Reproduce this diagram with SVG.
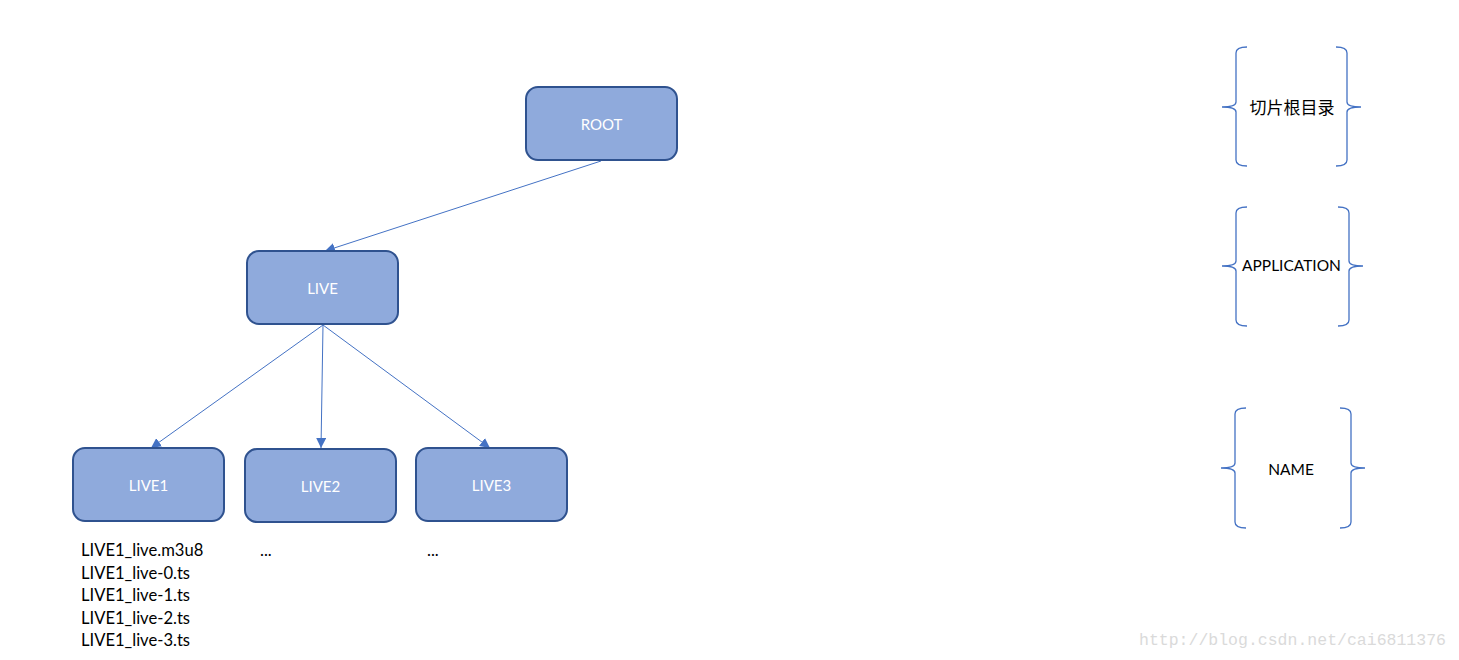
<svg xmlns="http://www.w3.org/2000/svg" width="1459" height="660" viewBox="0 0 1459 660">
<style>
.box{fill:#8FAADC;stroke:#2F528F;stroke-width:2}
.bt{fill:#ffffff;font-family:Lato,"Open Sans",sans-serif;font-size:15px;text-anchor:middle;dominant-baseline:central}
.conn{stroke:#4472C4;stroke-width:1;fill:none}
.brace{stroke:#4472C4;stroke-width:1.3;fill:none}
.lbl{fill:#000;font-family:Lato,"Noto Sans CJK SC",sans-serif;font-size:16.6px}
.bl{fill:#000;font-family:Lato,"Noto Sans CJK SC",sans-serif;font-size:15.5px;text-anchor:middle}
.wm{fill:#dadada;font-family:"Liberation Mono",monospace;font-size:16.5px}
</style>
<defs>
<marker id="ah" viewBox="0 0 10 10" refX="10" refY="5" markerWidth="10" markerHeight="10" markerUnits="userSpaceOnUse" orient="auto">
<path d="M0,0 L10,5 L0,10 Z" fill="#4472C4"/>
</marker>
</defs>
<rect width="1459" height="660" fill="#ffffff"/>
<g id="connectors">
<line class="conn" x1="601" y1="161" x2="325" y2="251" marker-end="url(#ah)"/>
<line class="conn" x1="323" y1="325" x2="151" y2="448" marker-end="url(#ah)"/>
<line class="conn" x1="323" y1="325" x2="321" y2="448" marker-end="url(#ah)"/>
<line class="conn" x1="323" y1="325" x2="490" y2="448" marker-end="url(#ah)"/>
</g>
<g id="root"><rect class="box" x="526" y="87" width="151" height="73" rx="12"/><text class="bt" x="601.5" y="124">ROOT</text></g>
<g id="live"><rect class="box" x="247" y="251" width="151" height="73" rx="12"/><text class="bt" x="322.5" y="288">LIVE</text></g>
<g id="live1"><rect class="box" x="73" y="448" width="151" height="73" rx="12"/><text class="bt" x="148.5" y="485">LIVE1</text></g>
<g id="live2"><rect class="box" x="245" y="449" width="151" height="73" rx="12"/><text class="bt" x="320.5" y="486">LIVE2</text></g>
<g id="live3"><rect class="box" x="416" y="448" width="151" height="73" rx="12"/><text class="bt" x="491.5" y="485">LIVE3</text></g>
<g id="files">
<text class="lbl" x="81" y="556">LIVE1_live.m3u8</text>
<text class="lbl" x="81" y="579">LIVE1_live-0.ts</text>
<text class="lbl" x="81" y="601">LIVE1_live-1.ts</text>
<text class="lbl" x="81" y="624">LIVE1_live-2.ts</text>
<text class="lbl" x="81" y="646">LIVE1_live-3.ts</text>
<text class="lbl" x="260" y="556">...</text>
<text class="lbl" x="427" y="556">...</text>
</g>
<g id="brace-root">
<path class="brace" d="M1247,47 Q1236,47 1236,53 L1236,102 Q1236,107 1222,107 Q1236,107 1236,112 L1236,160 Q1236,166 1247,166"/>
<path class="brace" d="M1336,47 Q1347,47 1347,53 L1347,102 Q1347,107 1361,107 Q1347,107 1347,112 L1347,160 Q1347,166 1336,166"/>
<text class="bl" x="1292" y="114" style="font-size:17px">切片根目录</text>
</g>
<g id="brace-app">
<path class="brace" d="M1247,207 Q1236,207 1236,213 L1236,261 Q1236,266 1222,266 Q1236,266 1236,271 L1236,320 Q1236,326 1247,326"/>
<path class="brace" d="M1338,207 Q1349,207 1349,213 L1349,261 Q1349,266 1363,266 Q1349,266 1349,271 L1349,320 Q1349,326 1338,326"/>
<text class="bl" x="1291.5" y="271">APPLICATION</text>
</g>
<g id="brace-name">
<path class="brace" d="M1246,408 Q1235,408 1235,414 L1235,463 Q1235,468 1221,468 Q1235,468 1235,473 L1235,522 Q1235,528 1246,528"/>
<path class="brace" d="M1340,408 Q1351,408 1351,414 L1351,463 Q1351,468 1365,468 Q1351,468 1351,473 L1351,522 Q1351,528 1340,528"/>
<text class="bl" x="1291" y="475">NAME</text>
</g>
<text class="wm" x="1139" y="645">http://blog.csdn.net/cai6811376</text>
</svg>
